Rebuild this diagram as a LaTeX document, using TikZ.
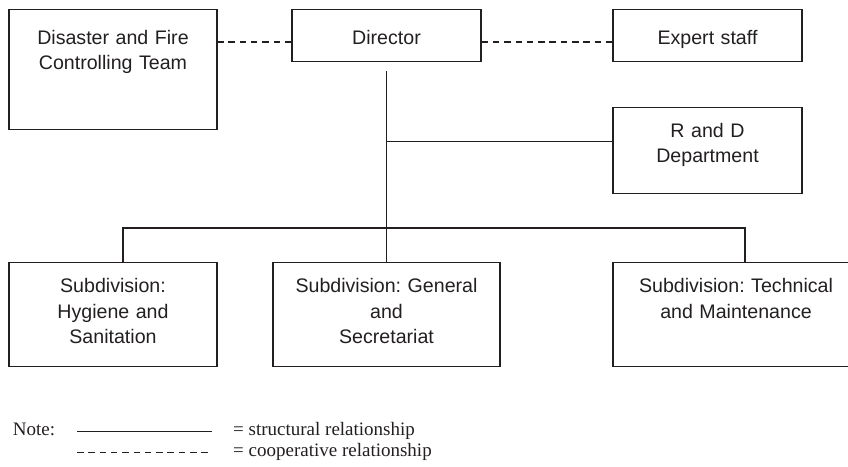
\documentclass[tikz,border=0pt]{standalone}
\usepackage{fontspec}
\setmainfont{Liberation Sans}
\newfontfamily\notefont{Liberation Serif}
\definecolor{ink}{HTML}{231F20}
\frenchspacing
\begin{document}
\begin{tikzpicture}[x=1pt,y=-1pt,
  box/.style={draw=ink, line width=1.3pt, anchor=north, inner sep=0pt, align=center,
    text=ink, font=\fontsize{19.6}{25.5}\selectfont},
  struct/.style={draw=ink, line width=1.3pt},
  coop/.style={draw=ink, line width=1.4pt, dash pattern=on 6.5pt off 4.8pt},
  notetext/.style={anchor=base west, inner sep=0pt, text=ink, font=\notefont\fontsize{19}{23}\selectfont}]
\useasboundingbox (0,0) rectangle (848,466);

% boxes
\node[box, text width=208pt, minimum width=208pt, text height=34.5pt, text depth=85.5pt] (dis) at (113,9) {Disaster and Fire\\Controlling Team};
\node[box, text width=189pt, minimum width=189pt, text height=34.5pt, text depth=17.5pt] (dir) at (386.5,9) {Director};
\node[box, text width=189pt, minimum width=189pt, text height=34.5pt, text depth=17.5pt] (exp) at (707.5,9) {Expert staff};
\node[box, text width=189pt, minimum width=189pt, text height=29.7pt, text depth=56.3pt] (rd) at (707.5,107) {R and D\\Department};
\node[box, text width=208pt, minimum width=208pt, text height=30.3pt, text depth=73.7pt] (sl) at (113,262) {Subdivision:\\Hygiene and\\Sanitation};
\node[box, text width=227pt, minimum width=227pt, text height=30.3pt, text depth=73.7pt] (sm) at (386.5,262) {Subdivision: General\\and\\Secretariat};
\node[box, text width=246pt, minimum width=246pt, text height=30.3pt, text depth=73.7pt] (sr) at (736,262) {Subdivision: Technical\\and Maintenance};

% cooperative (dashed) links
\coordinate (dl) at ([yshift=-6.5pt]dir.west);
\coordinate (dr) at ([yshift=-6.5pt]dir.east);
\draw[coop] (dl) -- (dl -| dis.east);
\draw[coop] (dr) -- (dr -| exp.west);

% structural links
\coordinate (dtop) at (386.7,71);
\draw[struct] (dtop) -- (dtop |- sm.north);
\coordinate (rdl) at ([yshift=9pt]rd.west);
\draw[struct] (dtop |- rdl) -- (rdl);
\draw[struct] ([xshift=10pt]sl.north) -- ++(0,-34) -| ([xshift=9pt]sr.north);

% note
\node[notetext] (note) at (12.7,435) {Note:};
\coordinate (s1) at (77,431.7);
\coordinate (s2) at (212,431.7);
\draw[struct, line width=1.5pt] (s1) -- (s2);
\node[notetext] (structlbl) at (233,435) {= structural relationship};
\coordinate (c1) at (77,452.5);
\coordinate (c2) at (212,452.5);
\draw[coop] (c1) -- (c2);
\node[notetext] (cooplbl) at (233,456) {= cooperative relationship};
\end{tikzpicture}
\end{document}
